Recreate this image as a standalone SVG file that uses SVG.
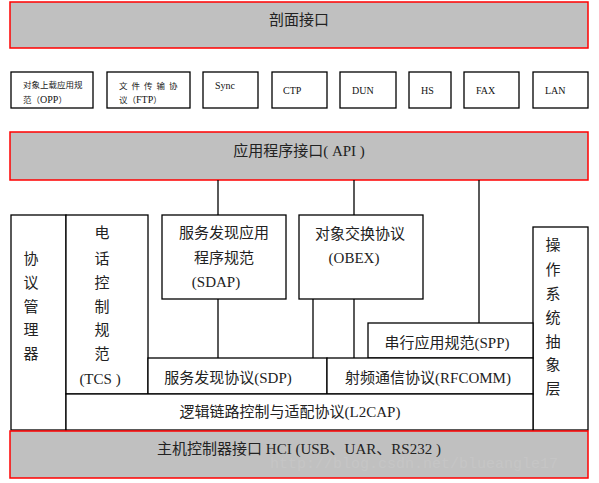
<svg xmlns="http://www.w3.org/2000/svg" width="599" height="483" viewBox="0 0 599 483">
<style>
.band{fill:#c0c0c0;stroke:#ff0000;stroke-width:1.5}
.box{fill:#ffffff;stroke:#000000;stroke-width:1.3}
.t{font-family:"Liberation Serif","Noto Sans CJK SC",serif;font-size:15px;fill:#222;text-anchor:middle}
.s{font-family:"Liberation Serif","Noto Sans CJK SC",serif;font-size:10px;fill:#111}
.c{font-family:"Noto Sans CJK SC",sans-serif;font-size:8.5px;fill:#222}
.ln{stroke:#000;stroke-width:1.3;fill:none}
</style>
<rect width="599" height="483" fill="#ffffff"/>
<g id="profile-interface">
<rect class="band" x="10" y="2" width="578" height="46"/>
<text class="t" x="299" y="25" font-size="16">剖面接口</text>
</g>
<g id="opp"><rect class="box" x="11" y="72" width="82" height="36"/>
<text class="c" x="23" y="88">对象上载应用规</text><text class="c" x="23" y="103">范（<tspan class="s" font-size="10">OPP</tspan>）</text></g>
<g id="ftp"><rect class="box" x="107" y="72" width="83" height="36"/>
<text class="c" x="119" y="89" letter-spacing="4">文件传输协</text><text class="c" x="119" y="103">议（<tspan class="s" font-size="10">FTP</tspan>）</text></g>
<g id="sync"><rect class="box" x="203" y="72" width="55" height="36"/><text class="s" x="215" y="89">Sync</text></g>
<g id="ctp"><rect class="box" x="272" y="72" width="55" height="36"/><text class="s" x="283" y="94">CTP</text></g>
<g id="dun"><rect class="box" x="340" y="72" width="56" height="36"/><text class="s" x="352" y="94">DUN</text></g>
<g id="hs"><rect class="box" x="409" y="72" width="42" height="36"/><text class="s" x="421" y="94">HS</text></g>
<g id="fax"><rect class="box" x="464" y="72" width="55" height="36"/><text class="s" x="476" y="94">FAX</text></g>
<g id="lan"><rect class="box" x="533" y="72" width="55" height="36"/><text class="s" x="545" y="94">LAN</text></g>
<g id="api">
<rect class="band" x="10" y="132" width="578" height="48"/>
<text class="t" x="299" y="156">应用程序接口( API )</text>
</g>
<g id="connectors">
<line class="ln" x1="218" y1="180" x2="218" y2="215"/>
<line class="ln" x1="354" y1="180" x2="354" y2="215"/>
<line class="ln" x1="479" y1="180" x2="479" y2="323"/>
<line class="ln" x1="218" y1="299" x2="218" y2="358"/>
<line class="ln" x1="313" y1="299" x2="313" y2="358"/>
<line class="ln" x1="354" y1="299" x2="354" y2="358"/>
</g>
<g id="protocol-manager"><rect class="box" x="11" y="215" width="55" height="215"/>
<text class="t" x="31" y="264">协</text><text class="t" x="31" y="288">议</text><text class="t" x="31" y="312">管</text><text class="t" x="31" y="335">理</text><text class="t" x="31" y="359">器</text></g>
<g id="tcs"><rect class="box" x="66" y="215" width="82" height="179"/>
<text class="t" x="102" y="238">电</text><text class="t" x="102" y="264">话</text><text class="t" x="102" y="288">控</text><text class="t" x="102" y="312">制</text><text class="t" x="102" y="335">规</text><text class="t" x="102" y="359">范</text><text class="t" x="100" y="384">(TCS )</text></g>
<g id="sdap"><rect class="box" x="162" y="215" width="124" height="84"/>
<text class="t" x="224" y="238">服务发现应用</text><text class="t" x="224" y="263">程序规范</text><text class="t" x="216" y="287">(SDAP)</text></g>
<g id="obex"><rect class="box" x="299" y="215" width="124" height="84"/>
<text class="t" x="360" y="239">对象交换协议</text><text class="t" x="354" y="263">(OBEX)</text></g>
<g id="os-abstraction"><rect class="box" x="533" y="227" width="55" height="203"/>
<text class="t" x="553" y="250">操</text><text class="t" x="553" y="275">作</text><text class="t" x="553" y="299">系</text><text class="t" x="553" y="323">统</text><text class="t" x="553" y="347">抽</text><text class="t" x="553" y="370">象</text><text class="t" x="553" y="394">层</text></g>
<g id="spp"><rect class="box" x="368" y="323" width="165" height="35"/>
<text class="t" x="447" y="348">串行应用规范(SPP)</text></g>
<g id="sdp"><rect class="box" x="148" y="358" width="179" height="36"/>
<text class="t" x="228" y="383">服务发现协议(SDP)</text></g>
<g id="rfcomm"><rect class="box" x="327" y="358" width="206" height="36"/>
<text class="t" x="428" y="383">射频通信协议(RFCOMM)</text></g>
<g id="l2cap"><rect class="box" x="66" y="394" width="467" height="36"/>
<text class="t" x="290" y="417">逻辑链路控制与适配协议(L2CAP)</text></g>
<g id="hci">
<rect class="band" x="10" y="431" width="578" height="47"/>
<text class="t" x="299" y="454">主机控制器接口 HCI (USB、UAR、RS232 )</text>
<text x="270" y="468" font-family="Liberation Mono,monospace" font-size="15" fill="#d0d0d0" opacity="0.35">http://blog.csdn.net/blueangle17</text>
</g>
</svg>
